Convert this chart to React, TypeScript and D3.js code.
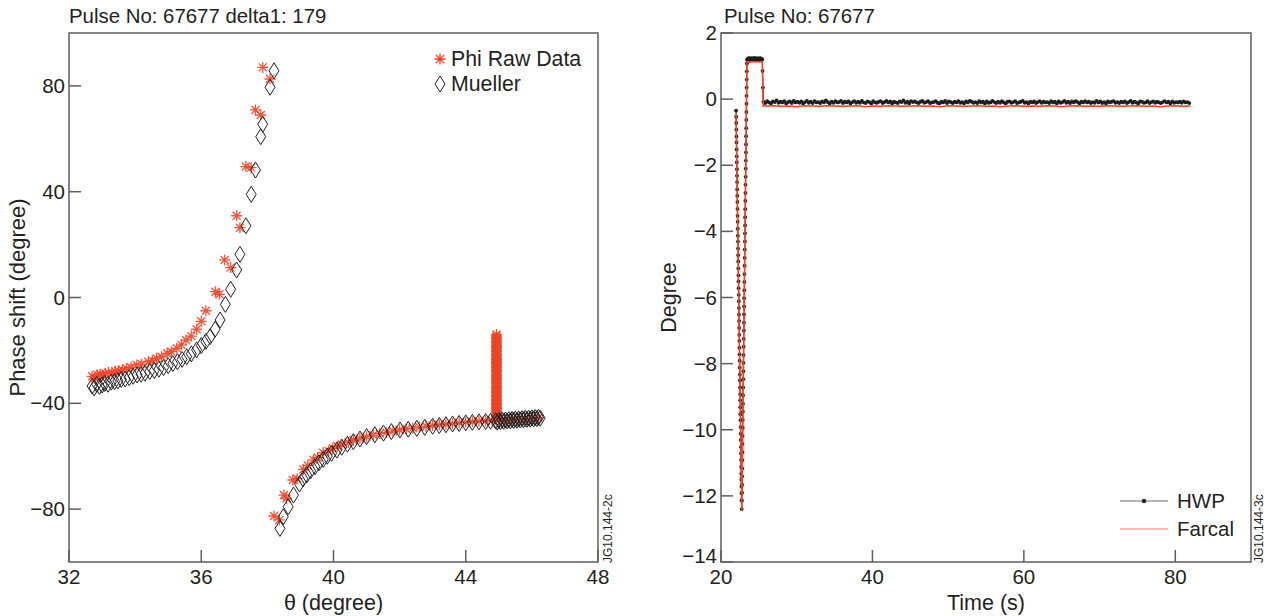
import React from "react";
import * as d3 from "d3";

// ---- left panel: phase shift vs theta ----
const phiThetaLow = [32.7, 32.78, 32.86, 32.94, 33.02, 33.1, 33.19, 33.3, 33.4, 33.49, 33.62, 33.74, 33.88, 34.05, 34.2, 34.4, 34.52, 34.65, 34.8, 34.97, 35.1, 35.26, 35.4, 35.54, 35.7, 35.86, 36.0, 36.14, 36.43, 36.55, 36.71, 36.89, 37.07, 37.17, 37.35, 37.51, 37.64, 37.8, 37.86, 38.08];
const phiValueLow = [-29.8, -30.5, -29.2, -29.0, -29.6, -28.7, -28.4, -28.6, -27.9, -27.7, -27.3, -26.8, -26.4, -25.5, -25.2, -24.3, -23.9, -23.0, -22.4, -21.1, -20.5, -19.2, -17.9, -16.1, -14.6, -12.0, -9.0, -5.0, 2.2, 1.2, 14.2, 11.3, 30.9, 26.4, 49.5, 49.1, 70.9, 69.0, 87.0, 82.6];
const phiThetaHigh = [38.2, 38.36, 38.5, 38.58, 38.77, 38.9, 39.09, 39.22, 39.39, 39.52, 39.69, 39.85, 39.98, 40.12, 40.25, 40.45, 40.6, 40.8, 41.0, 41.2, 41.4, 41.6, 41.8, 42.0, 42.2, 42.4, 42.6, 42.8, 43.0, 43.2, 43.4, 43.6, 43.8, 44.0, 44.2, 44.4, 44.6, 44.8, 45.0, 45.2, 45.4, 45.6, 45.8, 46.0, 46.2];
const phiValueHigh = [-82.6, -84.1, -74.7, -76.0, -69.0, -68.5, -65.0, -63.5, -61.4, -60.5, -58.7, -58.0, -57.0, -56.2, -55.6, -54.8, -54.0, -53.3, -52.6, -52.0, -51.4, -51.0, -50.5, -50.1, -49.7, -49.4, -49.0, -48.7, -48.4, -48.1, -47.9, -47.7, -47.4, -47.2, -47.0, -46.8, -46.7, -46.5, -46.3, -46.2, -46.0, -45.9, -45.8, -45.6, -45.4];
const phiSpikeTheta = 44.93;
const phiSpikeValue = [-14, -14.5, -15, -15.5, -16, -16.5, -17, -17.5, -18, -18.5, -19, -19.5, -20, -20.5, -21, -21.5, -22, -22.5, -23, -23.5, -24, -24.5, -25, -25.5, -26, -26.5, -27, -27.5, -28, -28.5, -29, -29.5, -30, -30.5, -31, -31.5, -32, -32.5, -33, -33.5, -34, -34.5, -35, -35.5, -36, -36.5, -37, -37.5, -38, -38.5, -39, -39.5, -40, -40.5, -41, -41.5, -42, -42.5, -43, -43.5, -44, -44.5, -45];

const muellerThetaLow = [32.7, 32.76, 32.84, 32.92, 33.0, 33.08, 33.18, 33.28, 33.38, 33.48, 33.58, 33.7, 33.82, 33.94, 34.06, 34.18, 34.3, 34.44, 34.58, 34.72, 34.86, 35.0, 35.14, 35.28, 35.42, 35.56, 35.7, 35.86, 36.0, 36.14, 36.27, 36.42, 36.57, 36.73, 36.89, 37.07, 37.17, 37.35, 37.51, 37.64, 37.8, 37.86, 38.08, 38.2];
const muellerValueLow = [-33.5, -34.2, -32.8, -33.6, -33.1, -32.5, -32.8, -32.0, -31.8, -31.5, -31.0, -30.8, -30.3, -29.8, -29.3, -29.0, -28.6, -28.0, -27.6, -27.1, -26.5, -25.8, -25.0, -24.3, -23.4, -22.4, -21.3, -19.8, -18.2, -16.6, -14.8, -12.0, -8.5, -2.6, 3.1, 10.4, 16.3, 27.1, 39.0, 48.2, 60.8, 65.5, 79.5, 85.7];
const muellerThetaHigh = [38.38, 38.48, 38.63, 38.79, 38.97, 39.08, 39.19, 39.31, 39.44, 39.56, 39.69, 39.81, 39.94, 40.1, 40.25, 40.42, 40.6, 40.8, 41.0, 41.25, 41.51, 41.75, 42.01, 42.26, 42.52, 42.76, 43.0, 43.2, 43.4, 43.6, 43.8, 44.0, 44.2, 44.4, 44.6, 44.75, 44.9, 44.95, 45.0, 45.05, 45.1, 45.15, 45.2, 45.25, 45.3, 45.35, 45.4, 45.45, 45.5, 45.55, 45.6, 45.65, 45.7, 45.75, 45.8, 45.85, 45.9, 45.95, 46.0, 46.05, 46.1, 46.15, 46.2, 46.25];
const muellerValueHigh = [-87.3, -82.9, -79.1, -74.7, -70.5, -68.6, -67.1, -65.5, -64.0, -62.5, -61.2, -60.0, -58.9, -57.7, -56.6, -55.5, -54.5, -53.5, -52.6, -51.9, -51.3, -50.7, -50.1, -49.8, -49.5, -49.1, -48.7, -48.4, -48.1, -47.8, -47.6, -47.4, -47.2, -47.0, -46.9, -46.8, -46.6, -47.1, -46.5, -46.9, -46.4, -46.8, -46.3, -46.7, -46.2, -46.6, -46.1, -46.5, -46.0, -46.4, -45.9, -46.3, -45.8, -46.2, -45.7, -46.1, -45.6, -46.0, -45.5, -45.9, -45.4, -45.8, -45.3, -45.6];

const leftXTicks = [32, 36, 40, 44, 48];
const leftYTicks = [80, 40, 0, -40, -80];

// ---- right panel: degree vs time ----
const sampleStep = 0.0125;
const hwpDownStart = 21.99;
const hwpDown = [-0.35, -0.53, -0.72, -0.92, -1.13, -1.31, -1.52, -1.73, -1.91, -2.12, -2.32, -2.51, -2.73, -2.92, -3.11, -3.32, -3.53, -3.71, -3.92, -4.13, -4.31, -4.52, -4.72, -4.91, -5.12, -5.33, -5.51, -5.72, -5.92, -6.11, -6.32, -6.52, -6.71, -6.92, -7.13, -7.31, -7.52, -7.72, -7.91, -8.12, -8.33, -8.51, -8.72, -8.92, -9.11, -9.32, -9.53, -9.71, -9.92, -10.12, -10.31, -10.52, -10.72, -10.91, -11.12, -11.33, -11.51, -11.72, -11.92, -12.13, -12.4];
const hwpUpStart = 22.7525;
const hwpUp = [-12.15, -11.9, -11.66, -11.41, -11.17, -10.92, -10.68, -10.43, -10.19, -9.94, -9.7, -9.45, -9.21, -8.96, -8.72, -8.47, -8.23, -7.98, -7.74, -7.49, -7.25, -7.0, -6.76, -6.51, -6.27, -6.02, -5.78, -5.53, -5.29, -5.04, -4.8, -4.55, -4.31, -4.06, -3.82, -3.57, -3.33, -3.08, -2.84, -2.59, -2.35, -2.1, -1.86, -1.61, -1.37, -1.12, -0.88, -0.63, -0.39, -0.14, 0.1, 0.35, 0.59, 0.84, 1.08];
const hwpPlateauStart = 23.45;
const hwpPlateauStep = 0.05;
const hwpPlateau = [1.19, 1.22, 1.17, 1.21, 1.24, 1.18, 1.2, 1.23, 1.16, 1.21, 1.19, 1.24, 1.18, 1.22, 1.2, 1.17, 1.23, 1.19, 1.21, 1.25, 1.18, 1.2, 1.22, 1.17, 1.21, 1.19, 1.24, 1.2, 1.18, 1.22, 1.19, 1.23, 1.17, 1.21, 1.2, 1.24, 1.18, 1.22, 1.19, 1.21, 1.2];
const hwpDropTime = [25.49, 25.53];
const hwpDrop = [0.85, 0.35];
const hwpFlatStart = 25.6;
const hwpFlatStep = 0.25;
const hwpFlat = [
  -0.08, -0.12, -0.06, -0.1, -0.13, -0.07, -0.09, -0.04, -0.11, -0.08,
  -0.1, -0.06, -0.13, -0.09, -0.07, -0.12, -0.05, -0.1, -0.08, -0.11,
  -0.07, -0.13, -0.09, -0.05, -0.11, -0.08, -0.12, -0.06, -0.1, -0.09,
  -0.12, -0.07, -0.1, -0.04, -0.09, -0.13, -0.08, -0.11, -0.06, -0.1,
  -0.09, -0.05, -0.12, -0.08, -0.1, -0.07, -0.13, -0.09, -0.06, -0.11,
  -0.08, -0.11, -0.05, -0.1, -0.12, -0.07, -0.09, -0.13, -0.06, -0.1,
  -0.11, -0.08, -0.06, -0.12, -0.09, -0.05, -0.1, -0.07, -0.13, -0.08,
  -0.1, -0.12, -0.07, -0.09, -0.04, -0.11, -0.08, -0.13, -0.06, -0.09,
  -0.07, -0.1, -0.12, -0.08, -0.05, -0.11, -0.09, -0.06, -0.12, -0.1,
  -0.09, -0.06, -0.11, -0.13, -0.08, -0.1, -0.05, -0.12, -0.07, -0.09,
  -0.12, -0.08, -0.1, -0.06, -0.11, -0.09, -0.13, -0.07, -0.1, -0.05,
  -0.08, -0.11, -0.09, -0.12, -0.06, -0.1, -0.08, -0.13, -0.07, -0.11,
  -0.1, -0.05, -0.09, -0.12, -0.08, -0.11, -0.06, -0.1, -0.13, -0.08,
  -0.07, -0.11, -0.09, -0.06, -0.12, -0.1, -0.08, -0.05, -0.11, -0.09,
  -0.13, -0.08, -0.1, -0.07, -0.12, -0.09, -0.06, -0.11, -0.08, -0.1,
  -0.09, -0.12, -0.06, -0.1, -0.08, -0.13, -0.07, -0.11, -0.09, -0.05,
  -0.11, -0.08, -0.12, -0.07, -0.1, -0.06, -0.09, -0.13, -0.08, -0.1,
  -0.06, -0.1, -0.08, -0.12, -0.09, -0.11, -0.05, -0.1, -0.07, -0.12,
  -0.09, -0.13, -0.07, -0.1, -0.08, -0.06, -0.11, -0.09, -0.12, -0.08,
  -0.1, -0.07, -0.12, -0.09, -0.05, -0.11, -0.08, -0.1, -0.13, -0.07,
  -0.08, -0.11, -0.1, -0.06, -0.12, -0.09, -0.07, -0.11, -0.08, -0.1,
  -0.12, -0.09, -0.06, -0.1, -0.08, -0.13, -0.07, -0.11, -0.09, -0.1,
  -0.08, -0.11, -0.07, -0.1, -0.09, -0.12,
];

const farcalEdgeTime = [21.99, 22.745, 23.43, 23.45, 25.46, 25.58];
const farcalEdge = [-0.45, -12.45, 1.1, 1.13, 1.13, -0.21];
const farcalFlatStart = 26;
const farcalFlatStep = 1;
const farcalFlat = [-0.21, -0.2, -0.22, -0.21, -0.23, -0.2, -0.21, -0.22, -0.2, -0.21, -0.22, -0.21, -0.2, -0.23, -0.21, -0.22, -0.2, -0.21, -0.22, -0.21, -0.2, -0.22, -0.21, -0.23, -0.2, -0.21, -0.22, -0.21, -0.2, -0.22, -0.21, -0.23, -0.21, -0.2, -0.22, -0.21, -0.22, -0.2, -0.21, -0.23, -0.21, -0.2, -0.22, -0.21, -0.22, -0.2, -0.21, -0.22, -0.21, -0.2, -0.22, -0.21, -0.23, -0.21, -0.2, -0.22, -0.21];

const rightXTicks = [20, 40, 60, 80];
const rightYTicks = [2, 0, -2, -4, -6, -8, -10, -12, -14];

const FONT = "'Liberation Sans', Arial, Helvetica, sans-serif";
const INK = "#231f20";
const AXIS = "#5e5e5e";
const RED = "#ef4226";

const L = { x0: 69, x1: 598, y0: 33, y1: 562 };
const R = { x0: 721, x1: 1251, y0: 33, y1: 562 };

const fmt = (v: number) => (v < 0 ? "\u2212" + Math.abs(v) : String(v));

type P = { t: number; v: number };
const sampled = (t0: number, dt: number, vals: number[]): P[] => vals.map((v, i) => ({ t: t0 + i * dt, v }));
const zipped = (ts: number[], vs: number[]): P[] => ts.map((t, i) => ({ t, v: vs[i] }));

const asterisk = (x: number, y: number) => {
  const r = 5.5, d = 4;
  return `M${x - r},${y}L${x + r},${y}M${x},${y - r}L${x},${y + r}M${x - d},${y - d}L${x + d},${y + d}M${x - d},${y + d}L${x + d},${y - d}`;
};
const diamond = (x: number, y: number) => `M${x},${y - 8}L${x + 5},${y}L${x},${y + 8}L${x - 5},${y}Z`;

function Frame({ box, xs, ys, xTicks, yTicks }: any) {
  return (
    <g>
      <rect x={box.x0} y={box.y0} width={box.x1 - box.x0} height={box.y1 - box.y0} fill="none" stroke={AXIS} strokeWidth={1.5} />
      {xTicks.map((t: number) => (
        <g key={"x" + t}>
          <line x1={xs(t)} x2={xs(t)} y1={box.y1} y2={box.y1 - 12} stroke={AXIS} strokeWidth={1.5} />
          <text x={xs(t)} y={box.y1 + 22} textAnchor="middle" fontSize={20.5} fill={INK}>{fmt(t)}</text>
        </g>
      ))}
      {yTicks.map((t: number) => (
        <g key={"y" + t}>
          <line x1={box.x0} x2={box.x0 + 12} y1={ys(t)} y2={ys(t)} stroke={AXIS} strokeWidth={1.5} />
          <text x={box.x0 - 4} y={Math.min(ys(t) + 7, box.y1 + 1)} textAnchor="end" fontSize={20.5} fill={INK}>{fmt(t)}</text>
        </g>
      ))}
    </g>
  );
}

export default function App() {
  // left scales
  const lx = d3.scaleLinear().domain([32, 48]).range([L.x0, L.x1]);
  const ly = d3.scaleLinear().domain([-100, 100]).range([L.y1, L.y0]);
  const phi = [...zipped(phiThetaLow, phiValueLow), ...zipped(phiThetaHigh, phiValueHigh)];
  const spike = phiSpikeValue.map((v) => ({ t: phiSpikeTheta, v }));
  const mueller = [...zipped(muellerThetaLow, muellerValueLow), ...zipped(muellerThetaHigh, muellerValueHigh)];

  // right scales
  const rx = d3.scaleLinear().domain([20, 90]).range([R.x0, R.x1]);
  const ry = d3.scaleLinear().domain([-14, 2]).range([R.y1, R.y0]);
  const hwp = [
    ...sampled(hwpDownStart, sampleStep, hwpDown),
    ...sampled(hwpUpStart, sampleStep, hwpUp),
    ...sampled(hwpPlateauStart, hwpPlateauStep, hwpPlateau),
    ...zipped(hwpDropTime, hwpDrop),
    ...sampled(hwpFlatStart, hwpFlatStep, hwpFlat),
  ];
  const farcal = [...zipped(farcalEdgeTime, farcalEdge), ...sampled(farcalFlatStart, farcalFlatStep, farcalFlat)];
  const line = d3.line<P>().x((d) => rx(d.t)).y((d) => ry(d.v));

  return (
    <svg width={1269} height={616} style={{ position: "absolute", left: 0, top: 0, background: "#fff" }} fontFamily={FONT}>
      {/* left panel */}
      <text x={L.x0} y={23} fontSize={20.4} fill={INK}>Pulse No: 67677 delta1: 179</text>
      <g>
        {[...phi, ...spike].map((d, i) => (
          <path key={"a" + i} d={asterisk(lx(d.t), ly(d.v))} stroke={RED} strokeWidth={1.3} fill="none" opacity={0.9} />
        ))}
        {mueller.map((d, i) => (
          <path key={"m" + i} d={diamond(lx(d.t), ly(d.v))} stroke={INK} strokeWidth={1} fill="none" />
        ))}
      </g>
      <Frame box={L} xs={lx} ys={ly} xTicks={leftXTicks} yTicks={leftYTicks} />
      <path d={asterisk(440, 59)} stroke={RED} strokeWidth={1.3} fill="none" />
      <text x={451} y={66} fontSize={21.3} fill={INK}>Phi Raw Data</text>
      <path d={diamond(440, 84)} stroke={INK} strokeWidth={1} fill="none" />
      <text x={451} y={91} fontSize={21.3} fill={INK}>Mueller</text>
      <text x={(L.x0 + L.x1) / 2} y={610} textAnchor="middle" fontSize={21.5} fill={INK}>θ (degree)</text>
      <text transform={`translate(25,${(L.y0 + L.y1) / 2}) rotate(-90)`} textAnchor="middle" fontSize={22} fill={INK}>Phase shift (degree)</text>
      <text transform={`translate(612,563) rotate(-90)`} fontSize={12} fill={INK}>JG10.144-2c</text>

      {/* right panel */}
      <text x={R.x0 + 3} y={23} fontSize={20.4} fill={INK}>Pulse No: 67677</text>
      <path d={line(hwp) || ""} fill="none" stroke="#333" strokeWidth={1.1} />
      {hwp.map((d, i) => (
        <circle key={"h" + i} cx={rx(d.t)} cy={ry(d.v)} r={1.9} fill="#1e1e1e" />
      ))}
      <path d={line(farcal) || ""} fill="none" stroke={RED} strokeWidth={1.6} />
      <Frame box={R} xs={rx} ys={ry} xTicks={rightXTicks} yTicks={rightYTicks} />
      <line x1={1120} x2={1168} y1={501} y2={501} stroke="#666" strokeWidth={1} />
      <circle cx={1144} cy={501} r={2.2} fill="#222" />
      <text x={1177} y={508} fontSize={20.5} fill={INK}>HWP</text>
      <line x1={1120} x2={1168} y1={529} y2={529} stroke={RED} strokeWidth={1} opacity={0.7} />
      <text x={1177} y={536} fontSize={20.5} fill={INK}>Farcal</text>
      <text x={(R.x0 + R.x1) / 2} y={610} textAnchor="middle" fontSize={21.5} fill={INK}>Time (s)</text>
      <text transform={`translate(676,${(R.y0 + R.y1) / 2}) rotate(-90)`} textAnchor="middle" fontSize={21.5} fill={INK}>Degree</text>
      <text transform={`translate(1263,563) rotate(-90)`} fontSize={12} fill={INK}>JG10.144-3c</text>
    </svg>
  );
}
